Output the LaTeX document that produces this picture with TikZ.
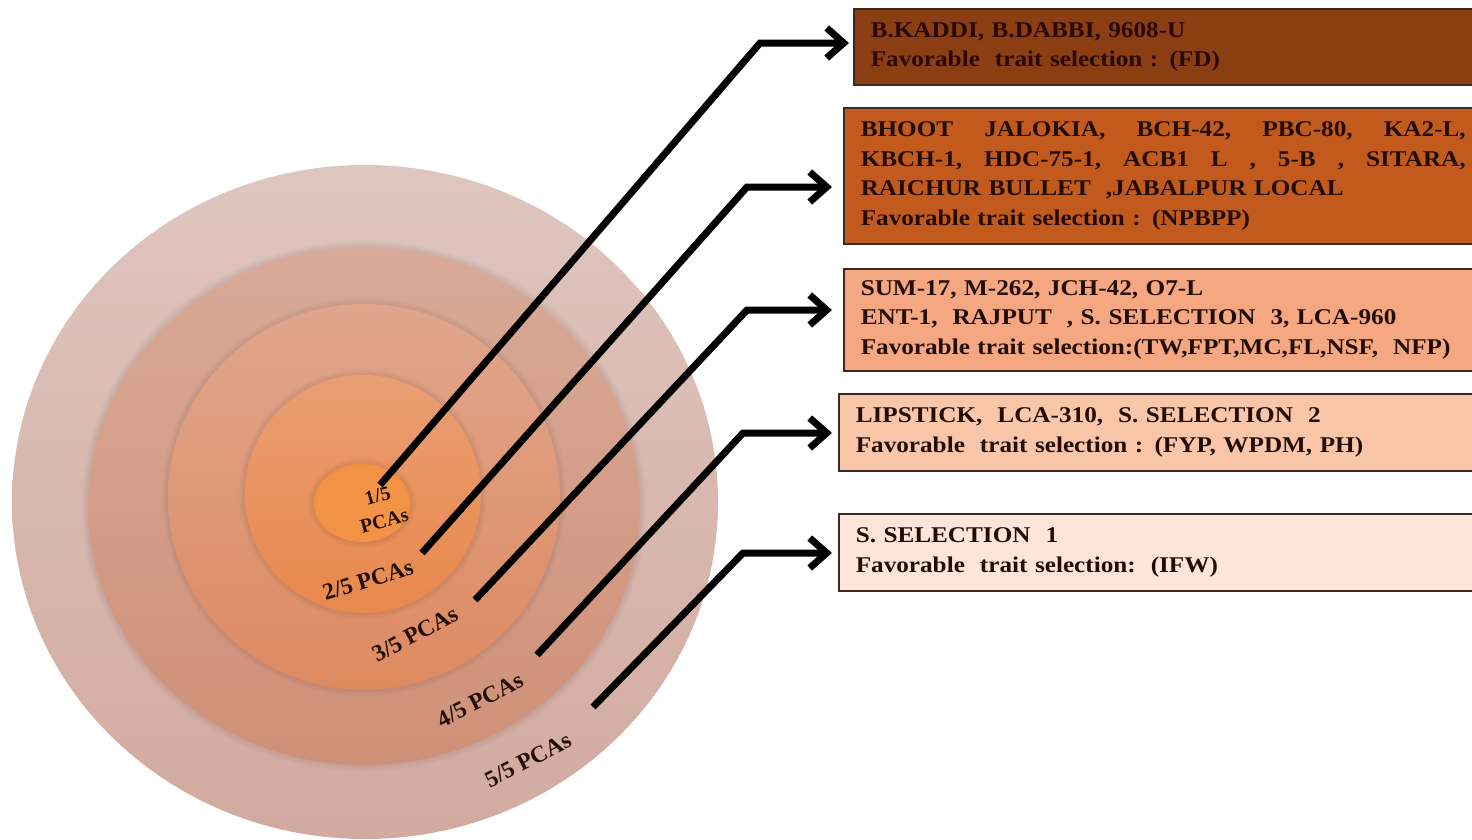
\documentclass[tikz,border=0pt]{standalone}
\usepackage{fontspec}
\setmainfont{Liberation Serif}
\newfontfamily\boxfont[FakeStretch=1.12]{Liberation Serif}
\usetikzlibrary{arrows.meta}
\definecolor{r1a}{HTML}{F39346}
\definecolor{r1b}{HTML}{EA7E2E}
\definecolor{r2t}{HTML}{E99E74}
\definecolor{r2b}{HTML}{E8884C}
\definecolor{r3t}{HTML}{DFA68E}
\definecolor{r3b}{HTML}{DE8A60}
\definecolor{r4t}{HTML}{D8AA98}
\definecolor{r4b}{HTML}{CF9078}
\definecolor{r5t}{HTML}{DEC6BF}
\definecolor{r5b}{HTML}{D2AA9F}
\definecolor{c1}{HTML}{8A3E12}
\definecolor{c2}{HTML}{C25A1E}
\definecolor{c3}{HTML}{F4A780}
\definecolor{c4}{HTML}{F9C6AA}
\definecolor{c5}{HTML}{FDE5DA}
\definecolor{boxline}{HTML}{3A2A22}
\definecolor{txt}{HTML}{220D06}
\definecolor{txtone}{HTML}{2A0806}
\pgfdeclareradialshading{shone}{\pgfpoint{0bp}{0bp}}{color(0bp)=(r1a); color(22bp)=(r1a); color(50bp)=(r1b)}
\newcommand{\ringshade}[4]{\foreach \dd in {2,4,6} {\fill[black, fill opacity=0.022] (#1,#2) ellipse [x radius={(#3+\dd)*1pt}, y radius={(#4+\dd)*1pt}];}}
\begin{document}
\begin{tikzpicture}[x=1pt,y=-1pt,
  box/.style={draw=boxline, line width=1.5pt, anchor=north west, inner xsep=17pt, inner ysep=0pt,
    text width=640pt, align=left, text=txt,
    font=\boxfont\fontsize{22.5}{29.5}\selectfont\bfseries},
  lab/.style={text=txt, inner sep=1pt, align=center,
    font=\fontsize{23.5}{27}\selectfont\bfseries},
  arr/.style={line width=7pt, black, line join=miter, -{Straight Barb[length=17pt,width=30pt]}}]
\clip (0,0) rectangle (1472,839);
\fill[white] (0,0) rectangle (1472,839);
% rings
\shade[top color=r5t, bottom color=r5b] (365,502) ellipse [x radius=353pt, y radius=337pt];
\ringshade{364}{506}{276}{259}
\shade[top color=r4t, bottom color=r4b] (364,506) ellipse [x radius=276pt, y radius=259pt];
\ringshade{364}{497}{196}{193}
\shade[top color=r3t, bottom color=r3b] (364,497) ellipse [x radius=196pt, y radius=193pt];
\ringshade{363}{494}{118}{119}
\shade[top color=r2t, bottom color=r2b] (363,494) ellipse [x radius=118pt, y radius=119pt];
\ringshade{362}{503}{48}{39}
\path[shading=shone] (362,503) ellipse [x radius=48pt, y radius=39pt];
% boxes
\node[box, fill=c1, text=txtone, minimum height=76pt] (b1) at (853,8)
  {B.KADDI, B.DABBI, 9608-U\\Favorable\ \ trait selection : (FD)};
\node[box, fill=c2, minimum height=136pt] (b2) at (843,107)
  {\makebox[605pt][s]{BHOOT\hfill JALOKIA,\hfill BCH-42,\hfill PBC-80,\hfill KA2-L,}\\
   \makebox[605pt][s]{KBCH-1,\hfill HDC-75-1,\hfill ACB1\hfill L\hfill ,\hfill 5-B\hfill ,\hfill SITARA,}\\
   RAICHUR BULLET\ \ ,JABALPUR LOCAL\\
   Favorable trait selection : (NPBPP)};
\node[box, fill=c3, minimum height=102pt] (b3) at (843,268)
  {SUM-17, M-262, JCH-42, O7-L\\
   ENT-1,\ \ RAJPUT\ \ , S. SELECTION\ \ 3, LCA-960\\
   Favorable trait selection:(TW,FPT,MC,FL,NSF,\ \ NFP)};
\node[box, fill=c4, minimum height=77pt] (b4) at (838,393)
  {LIPSTICK,\ \ LCA-310,\ \ S. SELECTION\ \ 2\\
   Favorable\ \ trait selection : (FYP, WPDM, PH)};
\node[box, fill=c5, minimum height=77pt] (b5) at (838,513)
  {S. SELECTION\ \ 1\\
   Favorable\ \ trait selection:\ \ (IFW)};
% labels
\node[lab, rotate=15, font=\fontsize{20}{26}\selectfont\bfseries] (l1) at (381,508) {1/5\\PCAs};
\node[lab, rotate=17] (l2) at (368,580) {2/5 PCAs};
\node[lab, rotate=28] (l3) at (415,634) {3/5 PCAs};
\node[lab, rotate=27] (l4) at (480,700) {4/5 PCAs};
\node[lab, rotate=27] (l5) at (528,760) {5/5 PCAs};
% arrows
\coordinate (s1) at (380,485); \coordinate (k1) at (760,43);
\coordinate (s2) at (422,553); \coordinate (k2) at (747,187);
\coordinate (s3) at (475,600); \coordinate (k3) at (747,310);
\coordinate (s4) at (537,655); \coordinate (k4) at (743,433);
\coordinate (s5) at (593,707); \coordinate (k5) at (743,553);
\draw[arr, shorten >=4pt] (s1) -- (k1) -- (k1 -| b1.west);
\draw[arr, shorten >=11pt] (s2) -- (k2) -- (k2 -| b2.west);
\draw[arr, shorten >=11pt] (s3) -- (k3) -- (k3 -| b3.west);
\draw[arr, shorten >=6pt] (s4) -- (k4) -- (k4 -| b4.west);
\draw[arr, shorten >=6pt] (s5) -- (k5) -- (k5 -| b5.west);
\end{tikzpicture}
\end{document}
